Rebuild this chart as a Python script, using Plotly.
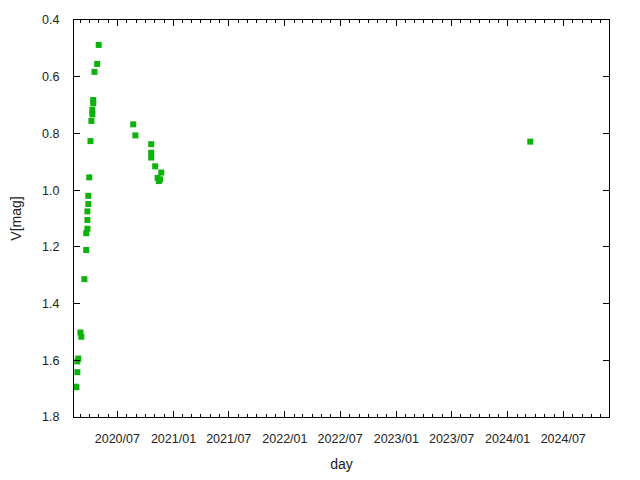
import plotly.graph_objects as go

dates = [
    "2020-02-15", "2020-02-18", "2020-02-21", "2020-02-21", "2020-02-24",
    "2020-03-02", "2020-03-05", "2020-03-15", "2020-03-21", "2020-03-21",
    "2020-03-25", "2020-03-25", "2020-03-25", "2020-03-28", "2020-03-28",
    "2020-03-31", "2020-04-04", "2020-04-07", "2020-04-10", "2020-04-10",
    "2020-04-13", "2020-04-13", "2020-04-17", "2020-04-26", "2020-05-01",
    "2020-08-22", "2020-08-29", "2020-10-20", "2020-10-20", "2020-10-20",
    "2020-11-02", "2020-11-10", "2020-11-14", "2020-11-18", "2020-11-22",
    "2024-03-15",
]
vmag = [
    1.693, 1.695, 1.642, 1.604, 1.594,
    1.502, 1.517, 1.314, 1.211, 1.152,
    1.136, 1.105, 1.075, 1.049, 1.020,
    0.955, 0.827, 0.756, 0.733, 0.717,
    0.694, 0.682, 0.583, 0.555, 0.488,
    0.768, 0.807, 0.838, 0.868, 0.885,
    0.916, 0.957, 0.968, 0.962, 0.938,
    0.829,
]
x_range = ["2020-02-10", "2024-11-28"]
y_range = [1.8, 0.4]

fig = go.Figure()
fig.add_trace(go.Scatter(
    x=dates, y=vmag, mode="markers",
    marker=dict(symbol="square", size=6, color="#0db20d", line=dict(width=0)),
    error_y=dict(type="constant", value=0.008, color="#0db20d", thickness=1, width=0),
    showlegend=False,
))

font = dict(family="Liberation Sans, Arial, sans-serif", size=12.5, color="#222")
axis_common = dict(
    showline=True, linecolor="black", linewidth=1, mirror="ticks",
    ticks="inside", ticklen=6, tickcolor="black", tickwidth=1,
    showgrid=False, zeroline=False, tickfont=font, automargin=False,
)

fig.update_xaxes(
    **axis_common,
    type="date", range=x_range,
    tick0="2020-01-01", dtick="M6", tickformat="%Y/%m",
    minor=dict(dtick="M1", ticks="inside", ticklen=3, tickcolor="black", showgrid=False),
    ticklabelstandoff=10,
    title=dict(text="day", font=dict(family="Liberation Sans, Arial, sans-serif", size=14, color="#222"), standoff=14),
)
fig.update_yaxes(
    **axis_common,
    range=y_range, tick0=0.4, dtick=0.2, tickformat=".1f",
    ticklabelstandoff=11,
    title=dict(text="V[mag]", font=dict(family="Liberation Sans, Arial, sans-serif", size=14, color="#222"), standoff=18),
)

fig.update_layout(
    width=632, height=472,
    margin=dict(l=66, r=31, t=12, b=63),
    plot_bgcolor="white", paper_bgcolor="white",
)

fig.write_html("out.html")
